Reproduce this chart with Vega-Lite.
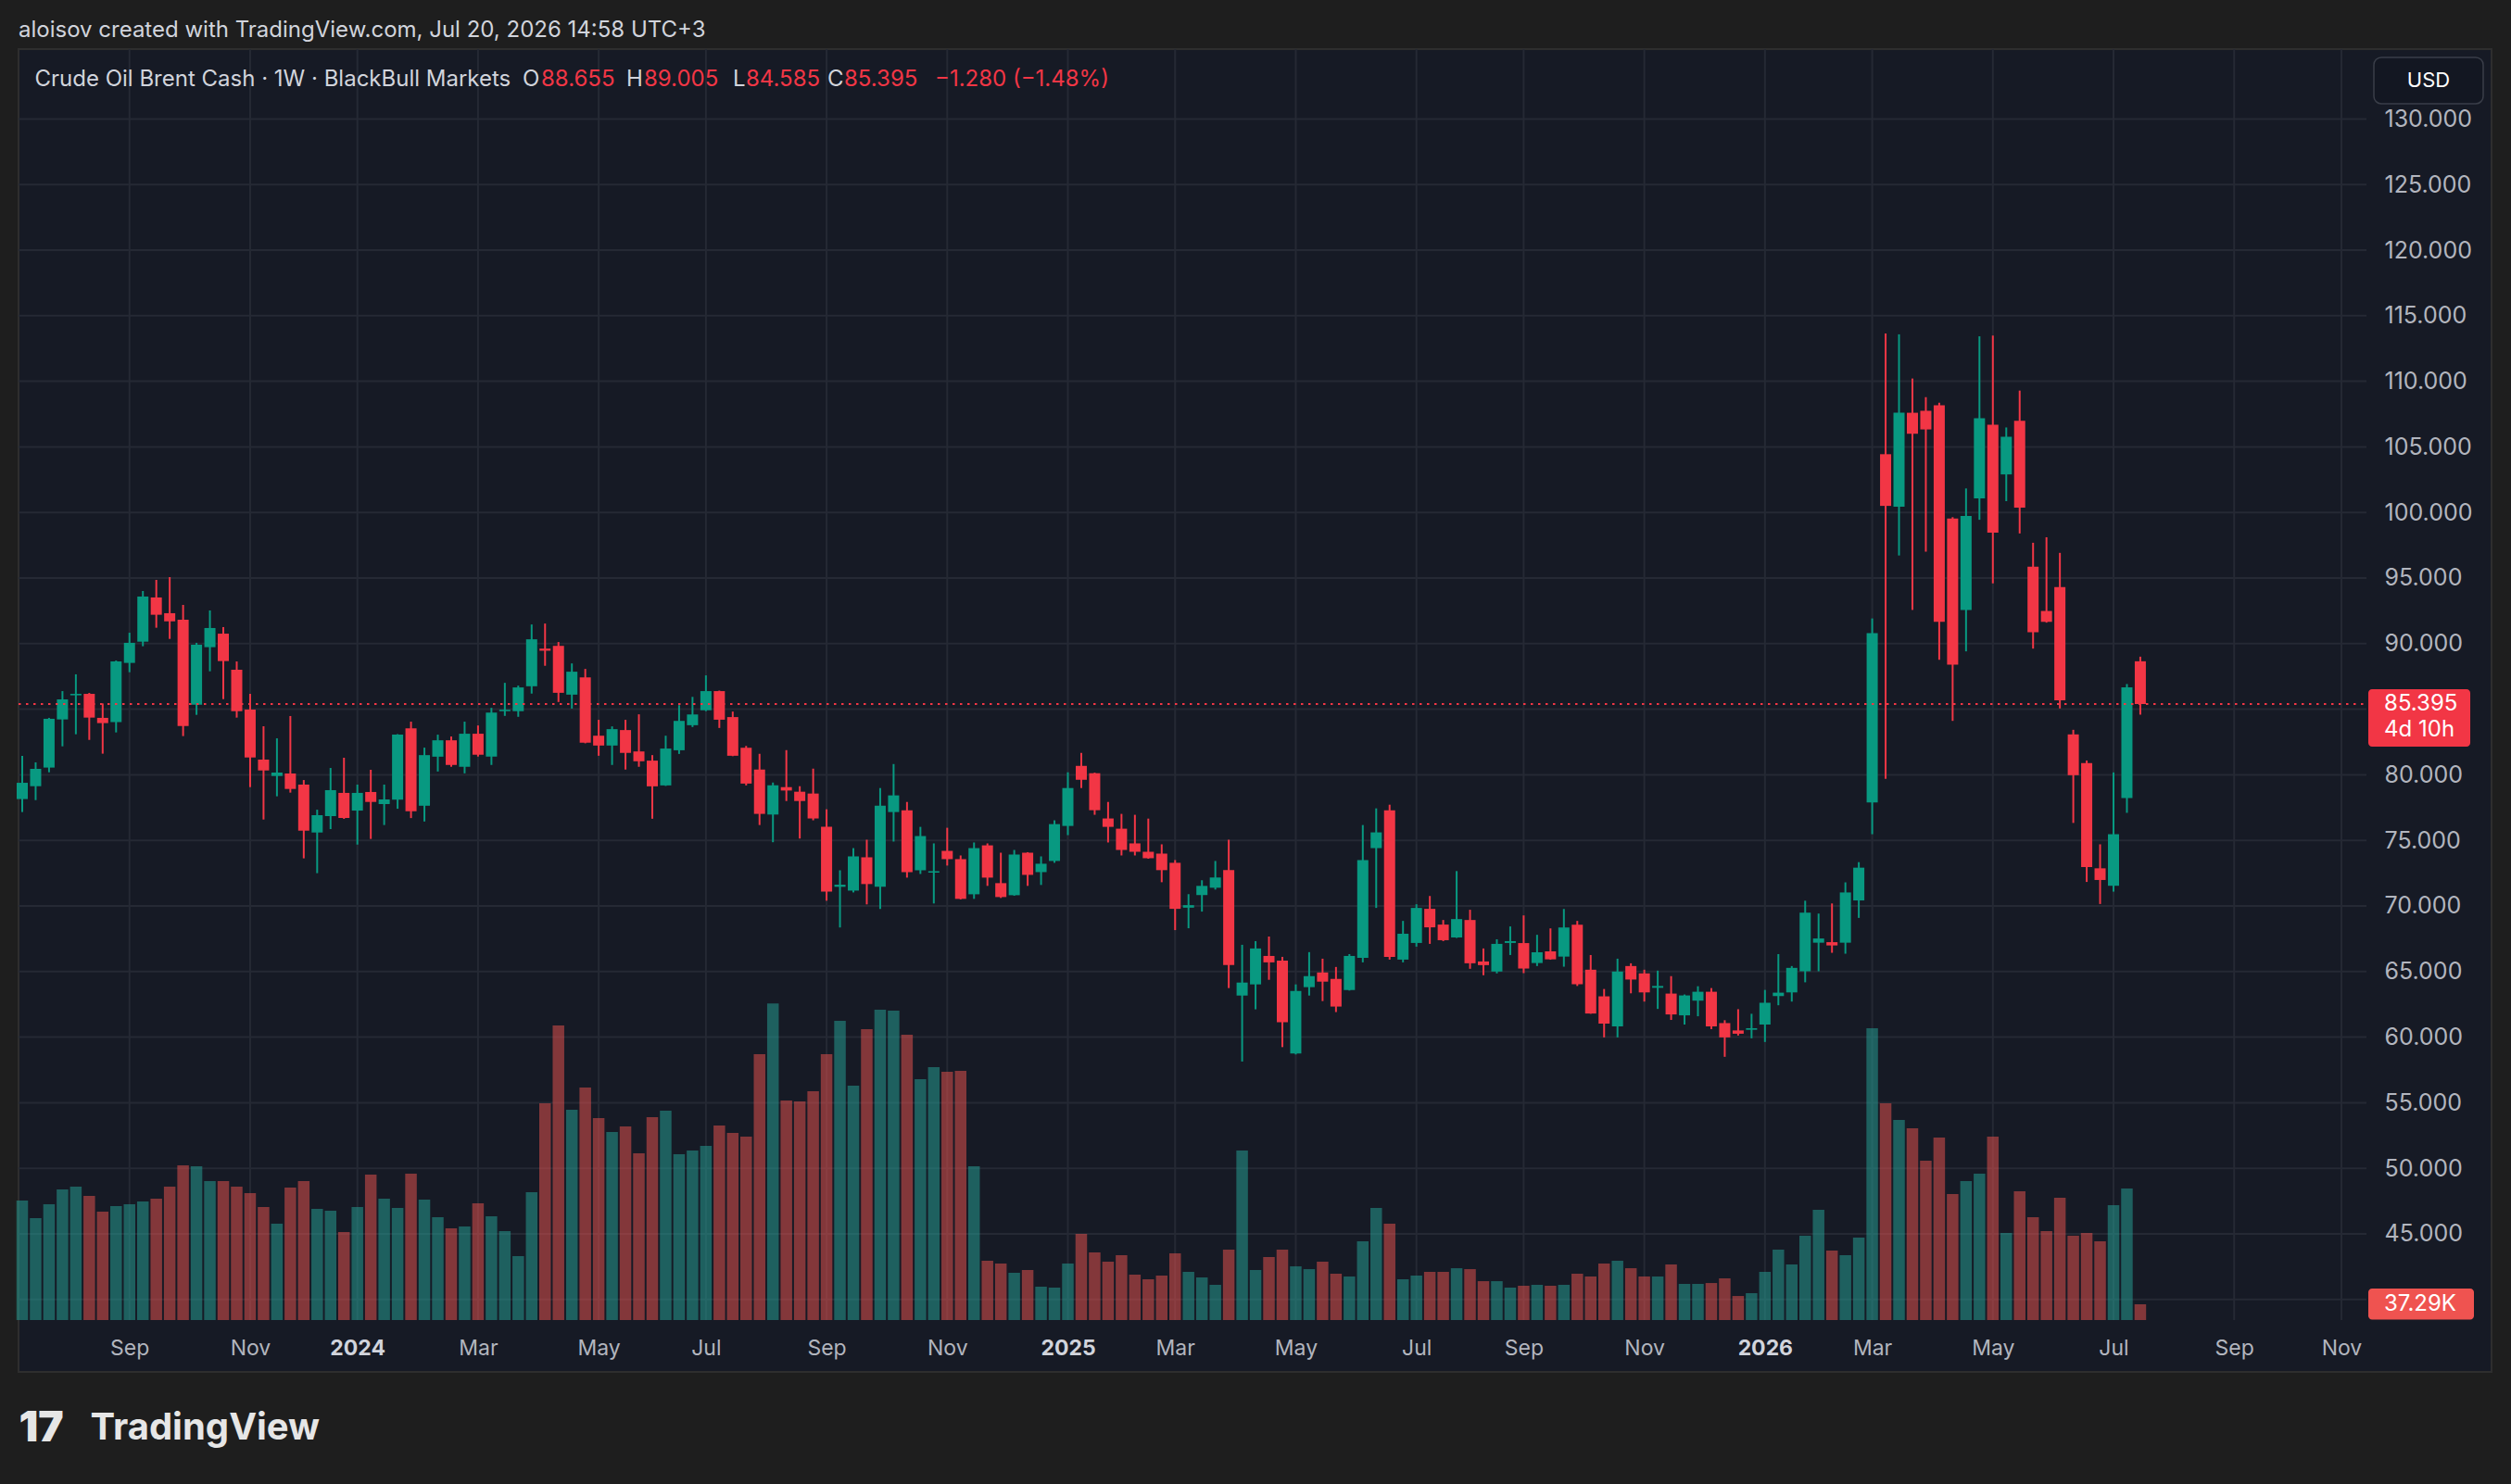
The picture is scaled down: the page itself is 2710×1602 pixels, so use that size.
{
"$schema": "https://vega.github.io/schema/vega-lite/v6.json",
"width": 2669, "height": 1428,
"autosize": {"type": "none"},
"padding": {"left": 20, "top": 53, "right": 21, "bottom": 121},
"background": "#1e1e1e",
"title": {"text": "aloisov created with TradingView.com, Jul 20, 2026 14:58 UTC+3", "anchor": "start", "frame": "group", "orient": "top", "offset": 21, "dy": 26, "baseline": "middle", "color": "#d1d4dc", "fontSize": 24, "fontWeight": "normal", "font": "Inter"},
"config": {"view": {"fill": "#161a25", "stroke": "#2e2e2e", "strokeWidth": 2}, "font": "Inter"},
"datasets": {
"ohlc": [
{"t":"2023-07-10","o":78.15,"h":81.44,"l":77.16,"c":79.39,"v":283.0},
{"t":"2023-07-17","o":79.13,"h":80.95,"l":78.07,"c":80.45,"v":241.3},
{"t":"2023-07-24","o":80.55,"h":84.34,"l":80.19,"c":84.27,"v":274.2},
{"t":"2023-07-31","o":84.22,"h":86.38,"l":82.17,"c":85.75,"v":309.3},
{"t":"2023-08-07","o":86.06,"h":87.66,"l":83.09,"c":86.17,"v":315.9},
{"t":"2023-08-14","o":86.17,"h":86.24,"l":82.66,"c":84.36,"v":293.9},
{"t":"2023-08-21","o":84.34,"h":85.44,"l":81.61,"c":83.94,"v":256.7},
{"t":"2023-08-28","o":84.01,"h":88.71,"l":83.23,"c":88.64,"v":269.8},
{"t":"2023-09-04","o":88.53,"h":90.83,"l":87.82,"c":90.06,"v":274.2},
{"t":"2023-09-11","o":90.15,"h":94.01,"l":89.80,"c":93.59,"v":280.8},
{"t":"2023-09-18","o":93.52,"h":94.86,"l":91.21,"c":92.20,"v":287.4},
{"t":"2023-09-25","o":92.32,"h":95.07,"l":90.36,"c":91.70,"v":315.9},
{"t":"2023-10-02","o":91.82,"h":92.95,"l":82.95,"c":83.72,"v":366.3},
{"t":"2023-10-09","o":85.35,"h":90.06,"l":84.57,"c":89.92,"v":364.1},
{"t":"2023-10-16","o":89.73,"h":92.53,"l":87.89,"c":91.19,"v":329.0},
{"t":"2023-10-23","o":90.76,"h":91.26,"l":85.77,"c":88.67,"v":329.0},
{"t":"2023-10-30","o":88.01,"h":88.64,"l":84.36,"c":84.85,"v":315.9},
{"t":"2023-11-06","o":84.97,"h":86.17,"l":79.06,"c":81.32,"v":300.5},
{"t":"2023-11-13","o":81.16,"h":83.70,"l":76.59,"c":80.33,"v":267.6},
{"t":"2023-11-20","o":79.91,"h":82.78,"l":78.36,"c":80.17,"v":228.1},
{"t":"2023-11-27","o":80.10,"h":84.48,"l":78.64,"c":78.92,"v":313.7},
{"t":"2023-12-04","o":79.25,"h":79.60,"l":73.63,"c":75.74,"v":329.0},
{"t":"2023-12-11","o":75.60,"h":77.34,"l":72.50,"c":76.92,"v":263.2},
{"t":"2023-12-18","o":76.85,"h":80.52,"l":75.86,"c":78.83,"v":258.8},
{"t":"2023-12-25","o":78.62,"h":81.30,"l":76.64,"c":76.71,"v":208.4},
{"t":"2024-01-01","o":77.27,"h":79.25,"l":74.68,"c":78.62,"v":267.6},
{"t":"2024-01-08","o":78.69,"h":80.38,"l":75.11,"c":77.93,"v":344.4},
{"t":"2024-01-15","o":77.77,"h":79.25,"l":76.17,"c":78.12,"v":287.4},
{"t":"2024-01-22","o":78.11,"h":83.10,"l":77.41,"c":83.06,"v":265.4},
{"t":"2024-01-29","o":83.55,"h":84.05,"l":76.70,"c":77.22,"v":346.6},
{"t":"2024-02-05","o":77.64,"h":82.07,"l":76.44,"c":81.50,"v":285.2},
{"t":"2024-02-12","o":81.38,"h":83.06,"l":80.25,"c":82.63,"v":243.5},
{"t":"2024-02-19","o":82.63,"h":82.92,"l":80.61,"c":80.75,"v":217.2},
{"t":"2024-02-26","o":80.61,"h":84.05,"l":80.11,"c":83.13,"v":221.6},
{"t":"2024-03-04","o":83.13,"h":83.76,"l":81.39,"c":81.53,"v":276.4},
{"t":"2024-03-11","o":81.39,"h":85.10,"l":80.75,"c":84.75,"v":245.7},
{"t":"2024-03-18","o":84.85,"h":87.01,"l":84.49,"c":84.96,"v":210.6},
{"t":"2024-03-25","o":84.85,"h":86.80,"l":84.42,"c":86.66,"v":151.4},
{"t":"2024-04-01","o":86.75,"h":91.46,"l":86.19,"c":90.33,"v":302.7},
{"t":"2024-04-08","o":89.62,"h":91.53,"l":88.31,"c":89.46,"v":513.3},
{"t":"2024-04-15","o":89.83,"h":90.12,"l":85.55,"c":86.25,"v":697.6},
{"t":"2024-04-22","o":86.11,"h":88.49,"l":85.05,"c":87.86,"v":497.9},
{"t":"2024-04-29","o":87.43,"h":88.07,"l":82.40,"c":82.44,"v":550.6},
{"t":"2024-05-06","o":82.98,"h":84.19,"l":81.45,"c":82.23,"v":478.2},
{"t":"2024-05-13","o":82.23,"h":83.69,"l":80.75,"c":83.48,"v":445.3},
{"t":"2024-05-20","o":83.41,"h":84.19,"l":80.40,"c":81.67,"v":458.5},
{"t":"2024-05-27","o":81.78,"h":84.61,"l":80.61,"c":81.03,"v":394.8},
{"t":"2024-06-03","o":81.08,"h":81.50,"l":76.65,"c":79.12,"v":480.4},
{"t":"2024-06-10","o":79.19,"h":82.98,"l":79.15,"c":82.00,"v":495.8},
{"t":"2024-06-17","o":81.87,"h":85.31,"l":81.59,"c":84.11,"v":392.7},
{"t":"2024-06-24","o":83.78,"h":85.94,"l":83.64,"c":84.60,"v":401.4},
{"t":"2024-07-01","o":84.92,"h":87.58,"l":84.85,"c":86.38,"v":412.4},
{"t":"2024-07-08","o":86.38,"h":86.42,"l":83.57,"c":84.20,"v":460.7},
{"t":"2024-07-15","o":84.40,"h":84.82,"l":81.42,"c":81.45,"v":443.1},
{"t":"2024-07-22","o":82.06,"h":82.20,"l":79.19,"c":79.33,"v":434.3},
{"t":"2024-07-29","o":80.40,"h":81.60,"l":76.17,"c":77.02,"v":629.6},
{"t":"2024-08-05","o":76.97,"h":79.41,"l":74.86,"c":79.20,"v":749.5},
{"t":"2024-08-12","o":79.06,"h":81.88,"l":78.00,"c":78.80,"v":519.9},
{"t":"2024-08-19","o":78.71,"h":79.13,"l":75.14,"c":78.00,"v":517.7},
{"t":"2024-08-26","o":78.57,"h":80.47,"l":76.53,"c":76.67,"v":541.8},
{"t":"2024-09-02","o":76.03,"h":77.37,"l":70.40,"c":71.10,"v":629.6},
{"t":"2024-09-09","o":71.46,"h":72.72,"l":68.36,"c":71.62,"v":708.5},
{"t":"2024-09-16","o":71.17,"h":74.41,"l":71.03,"c":73.78,"v":555.0},
{"t":"2024-09-23","o":73.71,"h":75.05,"l":70.12,"c":71.67,"v":688.8},
{"t":"2024-09-30","o":71.46,"h":78.99,"l":69.77,"c":77.65,"v":734.9},
{"t":"2024-10-07","o":77.16,"h":80.82,"l":74.91,"c":78.43,"v":732.7},
{"t":"2024-10-14","o":77.30,"h":77.93,"l":72.16,"c":72.58,"v":675.6},
{"t":"2024-10-21","o":72.72,"h":76.03,"l":72.44,"c":75.33,"v":570.3},
{"t":"2024-10-28","o":72.54,"h":74.77,"l":70.19,"c":72.65,"v":598.9},
{"t":"2024-11-04","o":74.20,"h":75.96,"l":73.08,"c":73.57,"v":587.9},
{"t":"2024-11-11","o":73.57,"h":73.85,"l":70.50,"c":70.54,"v":590.1},
{"t":"2024-11-18","o":70.89,"h":74.84,"l":70.54,"c":74.41,"v":364.1},
{"t":"2024-11-25","o":74.62,"h":74.77,"l":71.53,"c":72.16,"v":140.4},
{"t":"2024-12-02","o":71.74,"h":74.06,"l":70.61,"c":70.68,"v":133.8},
{"t":"2024-12-09","o":70.82,"h":74.27,"l":70.78,"c":73.92,"v":111.9},
{"t":"2024-12-16","o":74.06,"h":74.10,"l":71.53,"c":72.37,"v":118.5},
{"t":"2024-12-23","o":72.58,"h":73.78,"l":71.60,"c":73.22,"v":79.0},
{"t":"2024-12-30","o":73.43,"h":76.53,"l":73.29,"c":76.24,"v":76.8},
{"t":"2025-01-06","o":76.10,"h":80.19,"l":75.40,"c":78.99,"v":133.8},
{"t":"2025-01-13","o":80.68,"h":81.67,"l":78.99,"c":79.62,"v":204.0},
{"t":"2025-01-20","o":80.12,"h":80.16,"l":76.95,"c":77.30,"v":160.1},
{"t":"2025-01-27","o":76.67,"h":77.93,"l":74.84,"c":76.03,"v":138.2},
{"t":"2025-02-03","o":75.89,"h":77.02,"l":73.85,"c":74.27,"v":153.6},
{"t":"2025-02-10","o":74.77,"h":76.95,"l":73.85,"c":74.13,"v":107.5},
{"t":"2025-02-17","o":74.13,"h":76.66,"l":73.60,"c":73.64,"v":96.5},
{"t":"2025-02-24","o":73.99,"h":74.70,"l":71.81,"c":72.73,"v":105.3},
{"t":"2025-03-03","o":73.29,"h":73.50,"l":68.16,"c":69.78,"v":157.9},
{"t":"2025-03-10","o":69.87,"h":70.90,"l":68.30,"c":70.06,"v":114.1},
{"t":"2025-03-17","o":70.83,"h":71.96,"l":69.57,"c":71.53,"v":100.9},
{"t":"2025-03-24","o":71.39,"h":73.43,"l":71.25,"c":72.17,"v":83.4},
{"t":"2025-03-31","o":72.73,"h":75.05,"l":63.74,"c":65.49,"v":166.7},
{"t":"2025-04-07","o":63.17,"h":67.04,"l":58.14,"c":64.16,"v":401.4},
{"t":"2025-04-14","o":64.02,"h":67.32,"l":62.12,"c":66.76,"v":118.5},
{"t":"2025-04-21","o":66.19,"h":67.67,"l":64.37,"c":65.70,"v":149.2},
{"t":"2025-04-28","o":65.84,"h":66.12,"l":59.24,"c":61.14,"v":166.7},
{"t":"2025-05-05","o":58.75,"h":64.02,"l":58.68,"c":63.52,"v":127.2},
{"t":"2025-05-12","o":63.81,"h":66.48,"l":63.17,"c":64.65,"v":120.6},
{"t":"2025-05-19","o":64.93,"h":65.98,"l":62.75,"c":64.23,"v":138.2},
{"t":"2025-05-26","o":64.44,"h":65.35,"l":61.91,"c":62.33,"v":109.7},
{"t":"2025-06-02","o":63.59,"h":66.33,"l":63.55,"c":66.19,"v":103.1},
{"t":"2025-06-09","o":66.05,"h":76.17,"l":65.70,"c":73.50,"v":186.5},
{"t":"2025-06-16","o":74.41,"h":77.44,"l":69.85,"c":75.61,"v":265.4},
{"t":"2025-06-23","o":77.30,"h":77.72,"l":65.91,"c":66.12,"v":228.1},
{"t":"2025-06-30","o":65.91,"h":68.86,"l":65.70,"c":67.88,"v":96.5},
{"t":"2025-07-07","o":67.18,"h":70.13,"l":66.90,"c":69.85,"v":105.3},
{"t":"2025-07-14","o":69.78,"h":70.76,"l":67.11,"c":68.37,"v":114.1},
{"t":"2025-07-21","o":68.58,"h":68.93,"l":67.32,"c":67.39,"v":114.1},
{"t":"2025-07-28","o":67.60,"h":72.66,"l":67.56,"c":69.00,"v":122.8},
{"t":"2025-08-04","o":68.93,"h":69.71,"l":65.21,"c":65.63,"v":120.6},
{"t":"2025-08-11","o":65.77,"h":66.76,"l":64.72,"c":65.49,"v":92.1},
{"t":"2025-08-18","o":65.00,"h":67.46,"l":64.86,"c":67.11,"v":92.1},
{"t":"2025-08-25","o":67.18,"h":68.44,"l":66.26,"c":67.32,"v":76.8},
{"t":"2025-09-01","o":67.17,"h":69.28,"l":64.88,"c":65.23,"v":81.2},
{"t":"2025-09-08","o":65.65,"h":67.80,"l":65.42,"c":66.47,"v":83.4},
{"t":"2025-09-15","o":66.54,"h":68.29,"l":65.90,"c":65.93,"v":81.2},
{"t":"2025-09-22","o":66.14,"h":69.77,"l":65.37,"c":68.36,"v":83.4},
{"t":"2025-09-29","o":68.57,"h":68.86,"l":63.90,"c":64.04,"v":109.7},
{"t":"2025-10-06","o":65.14,"h":66.26,"l":61.78,"c":61.80,"v":103.1},
{"t":"2025-10-13","o":63.11,"h":63.67,"l":59.98,"c":61.03,"v":133.8},
{"t":"2025-10-20","o":60.82,"h":65.98,"l":59.98,"c":65.00,"v":140.4},
{"t":"2025-10-27","o":65.42,"h":65.63,"l":63.34,"c":64.39,"v":122.8},
{"t":"2025-11-03","o":64.86,"h":65.14,"l":62.71,"c":63.41,"v":103.1},
{"t":"2025-11-10","o":63.76,"h":65.07,"l":62.15,"c":63.90,"v":103.1},
{"t":"2025-11-17","o":63.32,"h":64.65,"l":61.31,"c":61.73,"v":131.6},
{"t":"2025-11-24","o":61.66,"h":63.25,"l":60.96,"c":63.18,"v":85.6},
{"t":"2025-12-01","o":62.78,"h":63.88,"l":61.59,"c":63.46,"v":85.6},
{"t":"2025-12-08","o":63.46,"h":63.74,"l":60.61,"c":60.82,"v":87.7},
{"t":"2025-12-15","o":61.07,"h":61.29,"l":58.50,"c":59.98,"v":98.7},
{"t":"2025-12-22","o":60.51,"h":62.13,"l":60.12,"c":60.26,"v":57.0},
{"t":"2025-12-29","o":60.56,"h":61.78,"l":59.91,"c":60.68,"v":63.6},
{"t":"2026-01-05","o":60.96,"h":63.60,"l":59.63,"c":62.62,"v":114.1},
{"t":"2026-01-12","o":63.13,"h":66.33,"l":62.43,"c":63.39,"v":166.7},
{"t":"2026-01-19","o":63.41,"h":65.42,"l":62.71,"c":65.28,"v":131.6},
{"t":"2026-01-26","o":65.02,"h":70.40,"l":64.18,"c":69.49,"v":199.6},
{"t":"2026-02-02","o":67.20,"h":69.42,"l":65.02,"c":67.52,"v":261.0},
{"t":"2026-02-09","o":67.24,"h":70.19,"l":66.43,"c":66.99,"v":164.5},
{"t":"2026-02-16","o":67.20,"h":71.80,"l":66.36,"c":71.03,"v":153.6},
{"t":"2026-02-23","o":70.42,"h":73.34,"l":69.09,"c":72.92,"v":195.2},
{"t":"2026-03-02","o":77.90,"h":91.92,"l":75.47,"c":90.80,"v":691.0},
{"t":"2026-03-09","o":104.44,"h":113.64,"l":79.70,"c":100.50,"v":513.3},
{"t":"2026-03-16","o":100.44,"h":113.58,"l":96.72,"c":107.60,"v":473.8},
{"t":"2026-03-23","o":107.60,"h":110.21,"l":92.57,"c":106.00,"v":454.1},
{"t":"2026-03-30","o":107.75,"h":108.79,"l":97.01,"c":106.33,"v":377.3},
{"t":"2026-04-06","o":108.17,"h":108.37,"l":88.76,"c":91.66,"v":432.1},
{"t":"2026-04-13","o":99.53,"h":99.64,"l":84.11,"c":88.40,"v":298.3},
{"t":"2026-04-20","o":92.57,"h":101.83,"l":89.41,"c":99.73,"v":329.0},
{"t":"2026-04-27","o":101.07,"h":113.43,"l":99.44,"c":107.19,"v":346.6},
{"t":"2026-05-04","o":106.69,"h":113.49,"l":94.59,"c":98.46,"v":434.3},
{"t":"2026-05-11","o":102.90,"h":106.48,"l":100.86,"c":105.77,"v":206.2},
{"t":"2026-05-18","o":106.98,"h":109.29,"l":98.40,"c":100.36,"v":304.9},
{"t":"2026-05-25","o":95.86,"h":97.69,"l":89.62,"c":90.86,"v":243.5},
{"t":"2026-06-01","o":92.49,"h":98.11,"l":91.60,"c":91.66,"v":210.6},
{"t":"2026-06-08","o":94.32,"h":96.92,"l":85.06,"c":85.68,"v":289.6},
{"t":"2026-06-15","o":83.08,"h":83.43,"l":76.33,"c":79.97,"v":199.6},
{"t":"2026-06-22","o":80.89,"h":81.09,"l":71.83,"c":72.96,"v":206.2},
{"t":"2026-06-29","o":72.87,"h":74.70,"l":70.15,"c":71.98,"v":186.5},
{"t":"2026-07-06","o":71.54,"h":80.18,"l":71.09,"c":75.47,"v":272.0},
{"t":"2026-07-13","o":78.22,"h":86.92,"l":77.10,"c":86.675,"v":311.5},
{"t":"2026-07-20","o":88.655,"h":89.005,"l":84.585,"c":85.395,"v":37.29}
],
"ticks": [
{"d":"2023-09-04"},{"d":"2023-11-06"},{"d":"2024-01-01"},{"d":"2024-03-04"},{"d":"2024-05-06"},{"d":"2024-07-01"},{"d":"2024-09-02"},{"d":"2024-11-04"},{"d":"2025-01-06"},{"d":"2025-03-03"},{"d":"2025-05-05"},{"d":"2025-07-07"},{"d":"2025-09-01"},{"d":"2025-11-03"},{"d":"2026-01-05"},{"d":"2026-03-02"},{"d":"2026-05-04"},{"d":"2026-07-06"},{"d":"2026-09-07"},{"d":"2026-11-02"}
],
"levels": [
{"p":40},{"p":45},{"p":50},{"p":55},{"p":60},{"p":65},{"p":70},{"p":75},{"p":80},{"p":85},{"p":90},{"p":95},{"p":100},{"p":105},{"p":110},{"p":115},{"p":120},{"p":125},{"p":130}
]
},
"data": {"name": "ohlc"},
"resolve": {"scale": {"y": "independent"}},
"layer": [
{
"layer": [
{
"data": {"name": "levels"},
"mark": {"type": "rule", "color": "#252934", "strokeWidth": 2},
"encoding": {
"y": {"field": "p", "type": "quantitative",
"scale": {"domain": [34.477, 135.325], "nice": false, "zero": false},
"axis": {"orient": "right", "offset": -135, "values": [45,50,55,60,65,70,75,80,90,95,100,105,110,115,120,125,130], "format": ".3f", "labelColor": "#b2b5be", "labelFontSize": 25, "labelFont": "Inter", "labelAlign": "left", "labelBaseline": "middle", "labelPadding": 19, "ticks": false, "tickSize": 0, "domain": false, "grid": false, "labelFlush": false, "labelOverlap": false, "labelBound": false,
"title": "17", "titleAngle": 0, "titleX": -2534, "titleY": 1488, "titleAlign": "left", "titleBaseline": "middle", "titleFontSize": 46, "titleFontWeight": 900, "titleColor": "#e6e6e6", "titleFont": "Inter"}},
"x": {"datum": {"year": 2023, "month": 7, "date": 8, "hours": 1, "minutes": 34, "utc": true}, "type": "temporal"},
"x2": {"datum": {"year": 2026, "month": 11, "date": 15, "hours": 2, "utc": true}}
}
},
{
"data": {"name": "ticks"},
"mark": {"type": "rule", "color": "#252934", "strokeWidth": 2},
"encoding": {
"x": {"field": "d", "type": "temporal"},
"y": {"datum": 135.325},
"y2": {"datum": 38.43}
}
},
{
"mark": {"type": "rule", "strokeWidth": 2},
"encoding": {
"x": {"field": "t", "type": "temporal",
"scale": {"type": "utc", "domain": [{"year": 2023, "month": 7, "date": 8, "hours": 1, "minutes": 34, "utc": true}, {"year": 2027, "month": 1, "date": 19, "hours": 9, "minutes": 36, "utc": true}], "nice": false, "padding": 0},
"axis": {"orient": "bottom", "offset": -56,
"values": [{"year":2023,"month":9,"date":4,"utc":true},{"year":2023,"month":11,"date":6,"utc":true},{"year":2024,"month":1,"date":1,"utc":true},{"year":2024,"month":3,"date":4,"utc":true},{"year":2024,"month":5,"date":6,"utc":true},{"year":2024,"month":7,"date":1,"utc":true},{"year":2024,"month":9,"date":2,"utc":true},{"year":2024,"month":11,"date":4,"utc":true},{"year":2025,"month":1,"date":6,"utc":true},{"year":2025,"month":3,"date":3,"utc":true},{"year":2025,"month":5,"date":5,"utc":true},{"year":2025,"month":7,"date":7,"utc":true},{"year":2025,"month":9,"date":1,"utc":true},{"year":2025,"month":11,"date":3,"utc":true},{"year":2026,"month":1,"date":5,"utc":true},{"year":2026,"month":3,"date":2,"utc":true},{"year":2026,"month":5,"date":4,"utc":true},{"year":2026,"month":7,"date":6,"utc":true},{"year":2026,"month":9,"date":7,"utc":true},{"year":2026,"month":11,"date":2,"utc":true}],
"labelExpr": "utcmonth(datum.value) == 0 ? utcFormat(datum.value, '%Y') : utcFormat(datum.value, '%b')",
"labelColor": {"condition": {"test": "utcmonth(datum.value) == 0", "value": "#d1d4dc"}, "value": "#b2b5be"},
"labelFontWeight": {"condition": {"test": "utcmonth(datum.value) == 0", "value": "bold"}, "value": "normal"},
"labelFontSize": 23, "labelFont": "Inter", "labelBaseline": "middle", "labelAlign": "center", "labelPadding": 30, "ticks": false, "tickSize": 0, "domain": false, "grid": false, "labelFlush": false, "labelOverlap": false, "labelBound": false,
"title": "TradingView", "titleX": 77, "titleY": 116, "titleAlign": "left", "titleBaseline": "middle", "titleAngle": 0, "titleFontSize": 40, "titleFontWeight": "bold", "titleColor": "#e6e6e6", "titleFont": "Inter"}},
"y": {"field": "l", "type": "quantitative"},
"y2": {"field": "h"},
"color": {"condition": {"test": "datum.c >= datum.o", "value": "#089981"}, "value": "#f23645"}
}
},
{
"mark": {"type": "bar", "size": 12},
"encoding": {
"x": {"field": "t", "type": "temporal"},
"y": {"field": "o", "type": "quantitative"},
"y2": {"field": "c"},
"color": {"condition": {"test": "datum.c >= datum.o", "value": "#089981"}, "value": "#f23645"}
}
},
{
"transform": [{"filter": "datum.c == 85.395"}],
"mark": {"type": "rule", "color": "#f23645", "strokeWidth": 2, "strokeDash": [2.5, 5.5]},
"encoding": {
"y": {"field": "c", "type": "quantitative"},
"x": {"datum": {"year": 2023, "month": 7, "date": 8, "hours": 1, "minutes": 34, "utc": true}, "type": "temporal"},
"x2": {"datum": {"year": 2026, "month": 11, "date": 15, "hours": 2, "utc": true}}
}
},
{
"transform": [{"filter": "datum.c == 85.395"}],
"mark": {"type": "rect", "color": "#f23645", "cornerRadius": 4},
"encoding": {
"x": {"datum": {"year": 2026, "month": 11, "date": 16, "hours": 1, "utc": true}, "type": "temporal"},
"x2": {"datum": {"year": 2027, "month": 1, "date": 8, "hours": 7, "utc": true}},
"y": {"datum": 86.525},
"y2": {"datum": 82.147}
}
},
{
"transform": [{"filter": "datum.c == 85.395"}],
"mark": {"type": "text", "align": "left", "baseline": "middle", "color": "#ffffff", "fontSize": 24, "font": "Inter"},
"encoding": {
"x": {"datum": {"year": 2026, "month": 11, "date": 24, "hours": 7, "utc": true}, "type": "temporal"},
"y": {"field": "c", "type": "quantitative"},
"text": {"field": "c", "type": "quantitative", "format": ".3f"}
}
},
{
"transform": [{"filter": "datum.c == 85.395"}],
"mark": {"type": "text", "align": "left", "baseline": "middle", "color": "#ffffff", "fontSize": 24, "font": "Inter"},
"encoding": {
"x": {"datum": {"year": 2026, "month": 11, "date": 24, "hours": 7, "utc": true}, "type": "temporal"},
"y": {"datum": 83.418},
"text": {"value": "4d 10h"}
}
},
{
"transform": [{"filter": "datum.c == 85.395"}],
"mark": {"type": "rect", "fill": "#131722", "stroke": "#3a3e49", "strokeWidth": 1.5, "cornerRadius": 8},
"encoding": {
"x": {"datum": {"year": 2026, "month": 11, "date": 18, "hours": 23, "utc": true}, "type": "temporal"},
"x2": {"datum": {"year": 2027, "month": 1, "date": 15, "hours": 1, "utc": true}},
"y": {"datum": 134.69},
"y2": {"datum": 131.16}
}
},
{
"transform": [{"filter": "datum.c == 85.395"}],
"mark": {"type": "text", "align": "center", "baseline": "middle", "color": "#ffffff", "fontSize": 22, "font": "Inter"},
"encoding": {
"x": {"datum": {"year": 2026, "month": 12, "date": 17, "hours": 12, "utc": true}, "type": "temporal"},
"y": {"datum": 132.92},
"text": {"value": "USD"}
}
},
{
"transform": [{"filter": "datum.c == 85.395"}],
"mark": {"type": "text", "align": "left", "baseline": "middle", "dx": 13.5, "color": "#d1d4dc", "fontSize": 24, "font": "Inter"},
"encoding": {
"x": {"datum": {"year": 2023, "month": 7, "date": 10, "utc": true}, "type": "temporal"},
"y": {"datum": 132.99},
"text": {"value": "Crude Oil Brent Cash · 1W · BlackBull Markets"}
}
},
{
"transform": [{"filter": "datum.c == 85.395"}],
"mark": {"type": "text", "align": "left", "baseline": "middle", "dx": 540, "color": "#d1d4dc", "fontSize": 24, "font": "Inter"},
"encoding": {
"x": {"datum": {"year": 2023, "month": 7, "date": 10, "utc": true}, "type": "temporal"},
"y": {"datum": 132.99},
"text": {"value": "O"}
}
},
{
"transform": [{"filter": "datum.c == 85.395"}],
"mark": {"type": "text", "align": "left", "baseline": "middle", "dx": 560, "color": "#f23645", "fontSize": 24, "font": "Inter"},
"encoding": {
"x": {"datum": {"year": 2023, "month": 7, "date": 10, "utc": true}, "type": "temporal"},
"y": {"datum": 132.99},
"text": {"field": "o", "type": "quantitative", "format": ".3f"}
}
},
{
"transform": [{"filter": "datum.c == 85.395"}],
"mark": {"type": "text", "align": "left", "baseline": "middle", "dx": 652, "color": "#d1d4dc", "fontSize": 24, "font": "Inter"},
"encoding": {
"x": {"datum": {"year": 2023, "month": 7, "date": 10, "utc": true}, "type": "temporal"},
"y": {"datum": 132.99},
"text": {"value": "H"}
}
},
{
"transform": [{"filter": "datum.c == 85.395"}],
"mark": {"type": "text", "align": "left", "baseline": "middle", "dx": 671, "color": "#f23645", "fontSize": 24, "font": "Inter"},
"encoding": {
"x": {"datum": {"year": 2023, "month": 7, "date": 10, "utc": true}, "type": "temporal"},
"y": {"datum": 132.99},
"text": {"field": "h", "type": "quantitative", "format": ".3f"}
}
},
{
"transform": [{"filter": "datum.c == 85.395"}],
"mark": {"type": "text", "align": "left", "baseline": "middle", "dx": 767, "color": "#d1d4dc", "fontSize": 24, "font": "Inter"},
"encoding": {
"x": {"datum": {"year": 2023, "month": 7, "date": 10, "utc": true}, "type": "temporal"},
"y": {"datum": 132.99},
"text": {"value": "L"}
}
},
{
"transform": [{"filter": "datum.c == 85.395"}],
"mark": {"type": "text", "align": "left", "baseline": "middle", "dx": 781, "color": "#f23645", "fontSize": 24, "font": "Inter"},
"encoding": {
"x": {"datum": {"year": 2023, "month": 7, "date": 10, "utc": true}, "type": "temporal"},
"y": {"datum": 132.99},
"text": {"field": "l", "type": "quantitative", "format": ".3f"}
}
},
{
"transform": [{"filter": "datum.c == 85.395"}],
"mark": {"type": "text", "align": "left", "baseline": "middle", "dx": 869, "color": "#d1d4dc", "fontSize": 24, "font": "Inter"},
"encoding": {
"x": {"datum": {"year": 2023, "month": 7, "date": 10, "utc": true}, "type": "temporal"},
"y": {"datum": 132.99},
"text": {"value": "C"}
}
},
{
"transform": [{"filter": "datum.c == 85.395"}],
"mark": {"type": "text", "align": "left", "baseline": "middle", "dx": 887, "color": "#f23645", "fontSize": 24, "font": "Inter"},
"encoding": {
"x": {"datum": {"year": 2023, "month": 7, "date": 10, "utc": true}, "type": "temporal"},
"y": {"datum": 132.99},
"text": {"field": "c", "type": "quantitative", "format": ".3f"}
}
},
{
"transform": [{"filter": "datum.c == 85.395"}],
"mark": {"type": "text", "align": "left", "baseline": "middle", "dx": 985, "color": "#f23645", "fontSize": 24, "font": "Inter"},
"encoding": {
"x": {"datum": {"year": 2023, "month": 7, "date": 10, "utc": true}, "type": "temporal"},
"y": {"datum": 132.99},
"text": {"value": "−1.280 (−1.48%)"}
}
}
]
},
{
"layer": [
{
"mark": {"type": "bar", "size": 12.5, "opacity": 0.5},
"encoding": {
"x": {"field": "t", "type": "temporal"},
"y": {"field": "v", "type": "quantitative", "scale": {"domain": [-122.8, 3009.6], "nice": false, "zero": false}, "axis": null},
"y2": {"datum": 0},
"color": {"condition": {"test": "datum.c >= datum.o", "value": "#26a69a"}, "value": "#ef5350"}
}
},
{
"transform": [{"filter": "datum.c == 85.395"}],
"mark": {"type": "rect", "color": "#ef5350", "cornerRadius": 4},
"encoding": {
"x": {"datum": {"year": 2026, "month": 11, "date": 16, "hours": 1, "utc": true}, "type": "temporal"},
"x2": {"datum": {"year": 2027, "month": 1, "date": 10, "hours": 5, "utc": true}},
"y": {"datum": 74.6, "axis": null},
"y2": {"datum": 1.3}
}
},
{
"transform": [{"filter": "datum.c == 85.395"}],
"mark": {"type": "text", "align": "left", "baseline": "middle", "color": "#ffffff", "fontSize": 24, "font": "Inter"},
"encoding": {
"x": {"datum": {"year": 2026, "month": 11, "date": 24, "hours": 7, "utc": true}, "type": "temporal"},
"y": {"field": "v", "type": "quantitative", "axis": null},
"text": {"value": "37.29K"}
}
}
]
}
]
}
